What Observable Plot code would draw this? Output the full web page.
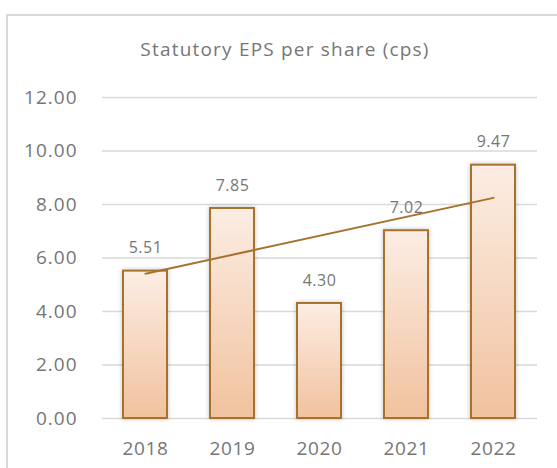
<!DOCTYPE html>
<html>
<head>
<meta charset="utf-8">
<script src="https://cdn.jsdelivr.net/npm/d3@7"></script>
<script src="https://cdn.jsdelivr.net/npm/@observablehq/plot@0.6"></script>
<style>
  body { margin: 0; background: #fff; width: 557px; height: 468px; overflow: hidden; position: relative; font-family: "Open Sans", sans-serif; }
  #frame { position: absolute; left: 6px; top: 14px; width: 640px; height: 540px; border: 2px solid #d9d9d9; box-sizing: border-box; }
  #title { position: absolute; left: 0; width: 570px; top: 37px; line-height: 24px; text-align: center; font-size: 19px; letter-spacing: 1.2px; color: #767676; }
  #chart { position: absolute; left: 0; top: 70px; }
  g[aria-label="y-axis tick label"] text { letter-spacing: 1px; }
  g[aria-label="x-axis tick label"] text { letter-spacing: 0.6px; }
  g[aria-label="text"] text { letter-spacing: 0.5px; }
</style>
</head>
<body>
<div id="frame"></div>
<div id="title">Statutory EPS per share (cps)</div>
<div id="chart"></div>
<script>
const years = ["2018", "2019", "2020", "2021", "2022"];
const eps = [5.51, 7.85, 4.30, 7.02, 9.47];
const yTicks = [0, 2, 4, 6, 8, 10, 12];

const data = years.map((y, i) => ({year: y, value: eps[i]}));

// Linear trendline (least squares over category index), as in the spreadsheet
const n = eps.length;
const xm = (n - 1) / 2;
const ym = d3.mean(eps);
const slope = d3.sum(eps, (v, i) => (i - xm) * (v - ym)) / d3.sum(eps, (v, i) => (i - xm) ** 2);
const intercept = ym - slope * xm;
const trend = [0, n - 1].map(i => ({year: years[i], value: intercept + slope * i}));

const brown = "#a6722e";
const grey = "#767676";

const defs = () => {
  const ns = "http://www.w3.org/2000/svg";
  const d = document.createElementNS(ns, "defs");
  d.innerHTML = `
    <linearGradient id="barGrad" x1="0" y1="0" x2="0" y2="1">
      <stop offset="0" stop-color="#fcede4"/>
      <stop offset="1" stop-color="#f1c29e"/>
    </linearGradient>
    <filter id="shadow" x="-20%" y="-5%" width="140%" height="110%">
      <feDropShadow dx="0" dy="0" stdDeviation="2" flood-color="#000" flood-opacity="0.25"/>
    </filter>`;
  return d;
};

const chart = Plot.plot({
  width: 557,
  height: 398,
  marginTop: 27,
  marginBottom: 50,
  marginLeft: 102,
  marginRight: 20,
  style: {fontFamily: "Open Sans", color: grey, background: "transparent"},
  x: {domain: years, paddingInner: 0.49, paddingOuter: 0.245, label: null},
  y: {domain: [0, 12], label: null},
  marks: [
    defs,
    Plot.gridY(yTicks, {stroke: "#d9d9d9", strokeOpacity: 1, strokeWidth: 1.5}),
    Plot.barY(data, {x: "year", y: "value", fill: "url(#barGrad)", stroke: brown, strokeWidth: 2}),
    Plot.line(trend, {x: "year", y: "value", stroke: brown, strokeWidth: 2}),
    Plot.text(data, {x: "year", y: "value", text: d => d3.format(".2f")(d.value), dy: -23, fontSize: 16, fill: grey}),
    Plot.axisY({ticks: yTicks, tickSize: 0, tickPadding: 25, tickFormat: d3.format(".2f"), fontSize: 19, fill: grey}),
    Plot.axisX({tickSize: 0, tickPadding: 23, fontSize: 19, fill: grey})
  ]
});
chart.querySelectorAll("rect").forEach(r => {
  if (r.getAttribute("fill") === "url(#barGrad)" || r.parentNode.getAttribute("fill") === "url(#barGrad)") r.setAttribute("filter", "url(#shadow)");
});
document.getElementById("chart").appendChild(chart);
</script>
</body>
</html>
